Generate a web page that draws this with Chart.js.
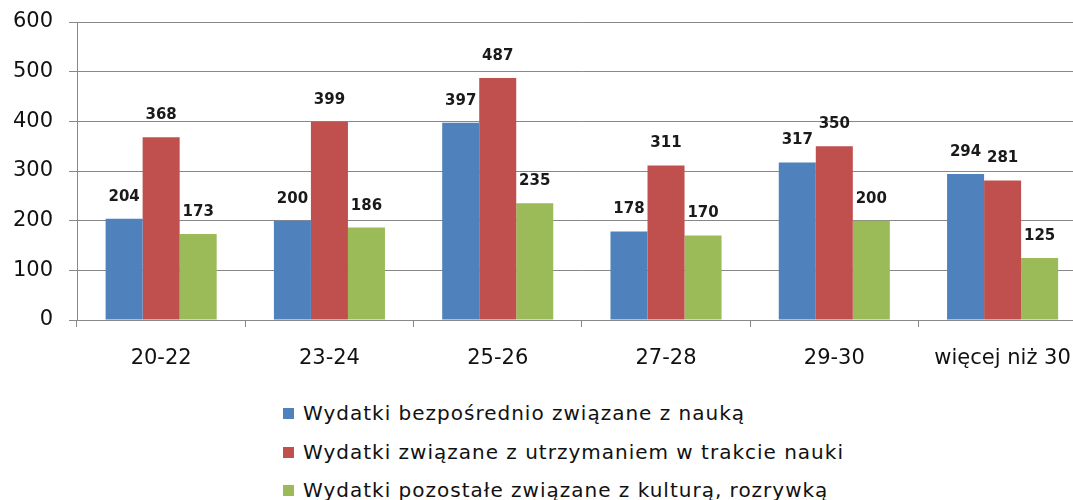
<!DOCTYPE html>
<html>
<head>
<meta charset="utf-8">
<script src="https://cdn.jsdelivr.net/npm/chart.js@4"></script>
<style>
  html, body { margin: 0; padding: 0; background: #fff; overflow: hidden; }
  #wrap { position: relative; width: 1073px; height: 500px; overflow: hidden; }
  #box { position: absolute; left: 0; top: 0; width: 1090px; height: 380px; }
  #legend { position: absolute; left: 283px; top: 396px; font-family: "DejaVu Sans", sans-serif; font-size: 20px; letter-spacing: 1px; color: #111; }
  #legend div { height: 38.5px; line-height: 34px; white-space: nowrap; }
  #legend span.box { display: inline-block; width: 11px; height: 11px; margin-right: 9px; vertical-align: 1px; }
</style>
</head>
<body>
<div id="wrap">
  <div id="box"><canvas id="myChart" width="1090" height="380"></canvas></div>
  <div id="legend"></div>
</div>
<script>
var categories = ['20-22', '23-24', '25-26', '27-28', '29-30', 'więcej niż 30'];
var seriesNames = [
  'Wydatki bezpośrednio związane z nauką',
  'Wydatki związane z utrzymaniem w trakcie nauki',
  'Wydatki pozostałe związane z kulturą, rozrywką'
];
var direct = [204, 200, 397, 178, 317, 294];
var living = [368, 399, 487, 311, 350, 281];
var other = [173, 186, 235, 170, 200, 125];
var yTicks = [0, 100, 200, 300, 400, 500, 600];
var colors = ['#4F81BD', '#C0504D', '#9BBB59'];

// draws the value above each bar
var valueLabels = {
  id: 'valueLabels',
  afterDatasetsDraw: function (chart) {
    var ctx = chart.ctx;
    ctx.save();
    ctx.font = 'bold 15px "DejaVu Sans", sans-serif';
    ctx.fillStyle = '#1a1a1a';
    ctx.textAlign = 'center';
    ctx.textBaseline = 'middle';
    chart.data.datasets.forEach(function (ds, i) {
      chart.getDatasetMeta(i).data.forEach(function (bar, j) {
        ctx.fillText(ds.data[j], bar.x, bar.y - 22);
      });
    });
    ctx.restore();
  }
};

var ctx = document.getElementById('myChart').getContext('2d');
var chart = new Chart(ctx, {
  type: 'bar',
  data: {
    labels: categories,
    datasets: [
      { label: seriesNames[0], data: direct, backgroundColor: colors[0] },
      { label: seriesNames[1], data: living, backgroundColor: colors[1] },
      { label: seriesNames[2], data: other, backgroundColor: colors[2] }
    ]
  },
  options: {
    responsive: false,
    animation: false,
    layout: { padding: { top: 22, left: 0, right: 2, bottom: 0 } },
    datasets: { bar: { barPercentage: 1, categoryPercentage: 0.66 } },
    plugins: { legend: { display: false }, tooltip: { enabled: false } },
    scales: {
      x: {
        grid: { drawOnChartArea: false, offset: true, tickLength: 7, color: '#888' },
        border: { color: '#888' },
        ticks: { padding: 19, color: '#111', font: { family: '"DejaVu Sans", sans-serif', size: 21 } },
        afterFit: function (s) { s.height = 60; }
      },
      y: {
        min: 0, max: 600,
        afterBuildTicks: function (s) { s.ticks = yTicks.map(function (v) { return { value: v }; }); },
        grid: { color: '#888', tickLength: 8 },
        border: { color: '#888' },
        ticks: { padding: 16, color: '#111', font: { family: '"DejaVu Sans", sans-serif', size: 21 } },
        afterFit: function (s) { s.width = 77; s.paddingTop = 0; s.paddingBottom = 0; }
      }
    }
  },
  plugins: [valueLabels]
});

var legend = document.getElementById('legend');
chart.data.datasets.forEach(function (ds) {
  var row = document.createElement('div');
  var sw = document.createElement('span');
  sw.className = 'box';
  sw.style.background = ds.backgroundColor;
  row.appendChild(sw);
  row.appendChild(document.createTextNode(ds.label));
  legend.appendChild(row);
});
</script>
</body>
</html>
